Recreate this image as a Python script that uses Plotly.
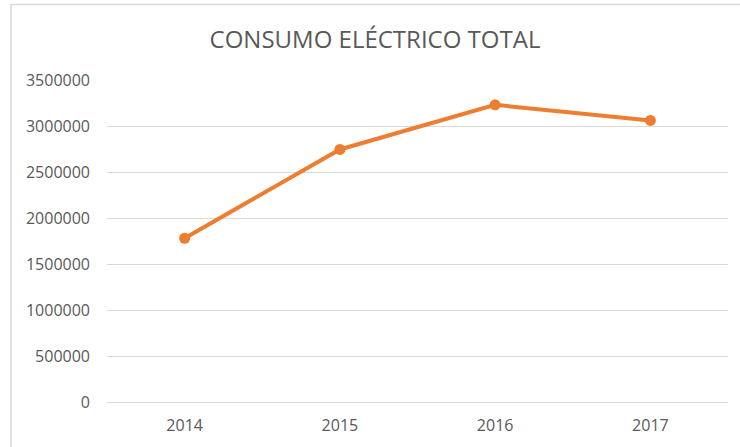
import plotly.graph_objects as go

years = ["2014", "2015", "2016", "2017"]
consumo = [1780000, 2745000, 3230000, 3060000]
y_ticks = [0, 500000, 1000000, 1500000, 2000000, 2500000, 3000000, 3500000]

W, H = 740, 447
L, R, T, B = 107, 12, 80, 45

fig = go.Figure()
fig.add_trace(go.Scatter(
    x=years, y=consumo, mode="lines+markers",
    line=dict(color="#ED7D31", width=4),
    marker=dict(color="#ED7D31", size=11),
    showlegend=False,
))

pw = W - L - R
ph = H - T - B
def px2paper_x(p):
    return (p - L) / pw
def px2paper_y(p):
    return (H - B - p) / ph

fig.update_layout(
    width=W, height=H,
    margin=dict(l=L, r=R, t=T, b=B, pad=0),
    paper_bgcolor="white", plot_bgcolor="white",
    title=dict(text="CONSUMO ELÉCTRICO TOTAL", x=375 / W, xanchor="center",
               y=1 - 40 / H, yanchor="middle",
               font=dict(family="Open Sans", size=24, color="#595959")),
    font=dict(family="Open Sans", color="#595959", size=16),
    xaxis=dict(type="category", range=[-0.5, 3.5],
               showgrid=False, showline=False, zeroline=False,
               ticks="", ticklabelstandoff=12,
               tickfont=dict(size=16, color="#595959")),
    yaxis=dict(range=[0, 3500000], tickvals=y_ticks,
               ticktext=[str(v) for v in y_ticks],
               showgrid=True, gridcolor="#d9d9d9", gridwidth=1,
               zeroline=True, zerolinecolor="#d9d9d9", zerolinewidth=1,
               showline=False, ticks="", ticklabelstandoff=16,
               tickfont=dict(size=16, color="#595959")),
    shapes=[dict(type="rect", xref="paper", yref="paper",
                 x0=px2paper_x(11), x1=px2paper_x(760),
                 y0=px2paper_y(470), y1=px2paper_y(4.5),
                 line=dict(color="#d9d9d9", width=1.5), fillcolor="rgba(0,0,0,0)",
                 layer="below")],
)

fig.write_html("out.html", config={"displayModeBar": False},
               post_script="document.body.style.margin='0';document.body.style.overflow='hidden';")
